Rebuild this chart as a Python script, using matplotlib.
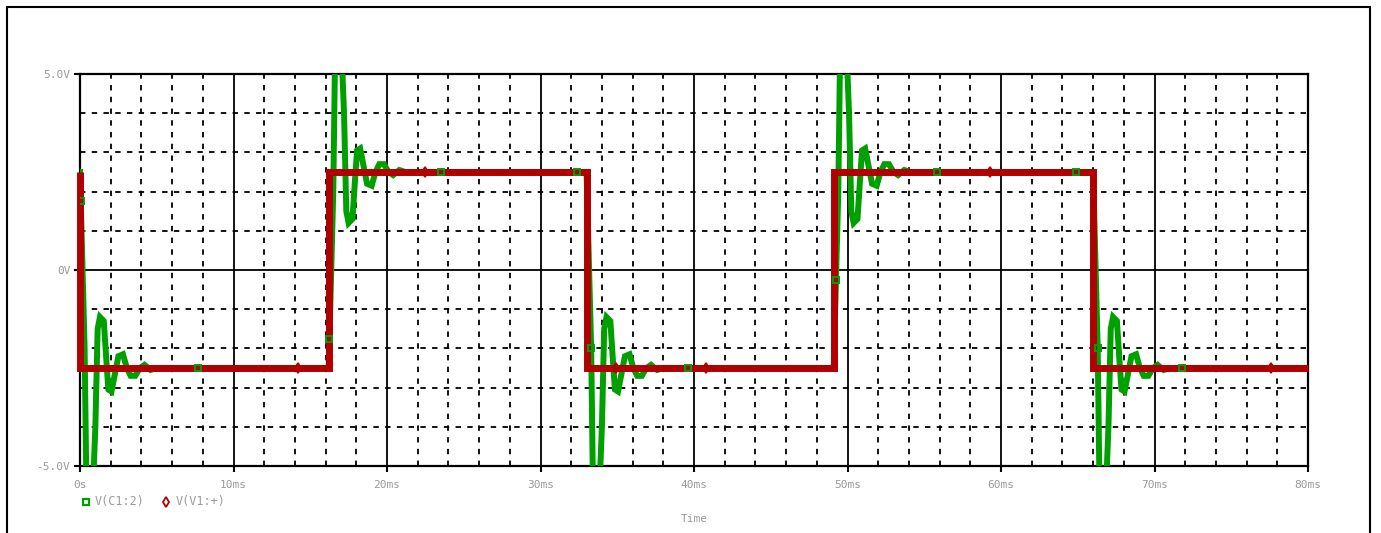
import matplotlib
matplotlib.use("Agg")
import matplotlib.pyplot as plt
import numpy as np
from matplotlib.lines import Line2D
from matplotlib.patches import Rectangle

# source square wave V(V1:+): edge times (ms) and level after each edge (V)
edge_t = [0.0, 16.2, 33.0, 49.1, 66.0]
edge_level = [-2.5, 2.5, -2.5, 2.5, -2.5]
v_start = 2.5
t_end = 80.0

# capacitor node V(C1:2): ringing after a rising edge, offset from the settled level
ring_dt = [0.0, 0.1, 0.3, 0.4, 0.55, 0.85, 1.0, 1.15, 1.3, 1.55, 1.75, 1.85,
           2.05, 2.25, 2.5, 2.8, 3.05, 3.3, 3.6, 3.9, 4.2, 4.6, 5.0]
ring_dv = [-5.0, -3.5, -0.5, 2.5, 3.0, 3.0, 1.5, -1.0, -1.3, -1.2, 0.0, 0.55,
           0.6, 0.2, -0.3, -0.35, 0.0, 0.2, 0.2, 0.0, -0.08, 0.05, 0.0]

# where the probe markers sit along each trace (ms)
green_marks = [0.05, 7.7, 16.25, 23.5, 32.4, 33.3, 39.6, 49.25, 55.8, 64.9, 66.3, 71.8]
red_marks = [14.2, 22.5, 34.9, 40.8, 59.3, 77.6]

xticks = [0, 10, 20, 30, 40, 50, 60, 70, 80]
xlabels = ["0s", "10ms", "20ms", "30ms", "40ms", "50ms", "60ms", "70ms", "80ms"]
yticks = [-5, 0, 5]
ylabels = ["-5.0V", "0V", "5.0V"]

W, H = 1381, 533
fig = plt.figure(figsize=(W / 100, H / 100), dpi=100)
ax = fig.add_axes([80 / W, 67 / H, 1228 / W, 392 / H])

# square wave polyline
rt, rv = [0.0], [v_start]
for t, lv in zip(edge_t, edge_level):
    rt += [t, t]
    rv += [rv[-1], lv]
rt.append(t_end)
rv.append(rv[-1])

# ringing trace built edge by edge
gt, gv = [0.0], [v_start]
for i, (t, lv) in enumerate(zip(edge_t, edge_level)):
    s = 1 if lv > 0 else -1
    for dt, dv in zip(ring_dt, ring_dv):
        gt.append(t + dt)
        gv.append(lv + s * dv)
    nxt = edge_t[i + 1] if i + 1 < len(edge_t) else t_end
    gt.append(nxt)
    gv.append(lv)
gt = np.array(gt)
gv = np.array(gv)

green = "#00a000"
red = "#b00000"
ax.plot(gt, gv, color=green, lw=4.3, solid_joinstyle="miter", zorder=3)
ax.plot(rt, rv, color=red, lw=5, solid_joinstyle="miter",
        solid_capstyle="butt", clip_on=False, zorder=5)
ax.plot(red_marks, np.interp(red_marks, rt, rv), ls="none", marker="d",
        ms=5.5, mfc="none", mec=red, mew=1.3, zorder=6)
ax.plot(green_marks, np.interp(green_marks, gt, gv), ls="none", marker="s",
        ms=5, mfc="none", mec=green, mew=1.4, zorder=7)

ax.set_xlim(0, 80)
ax.set_ylim(-5, 5)
ax.set_xticks(xticks)
ax.set_xticklabels(xlabels)
ax.set_yticks(yticks)
ax.set_yticklabels(ylabels)
ax.set_xticks([x for x in np.arange(0, 81, 2) if x % 10], minor=True)
ax.set_yticks([-4, -3, -2, -1, 1, 2, 3, 4], minor=True)

ax.grid(which="major", color="black", lw=1.3, ls="-", zorder=1)
ax.grid(which="minor", color="black", lw=1.3, ls=(0, (3, 3.5)), zorder=1)
ax.set_axisbelow(True)

for sp in ax.spines.values():
    sp.set_linewidth(1.6)
ax.tick_params(which="major", direction="out", length=4, width=1.5,
               color="black", labelcolor="#9a9a9a", labelsize=8)
ax.tick_params(axis="x", pad=6)
ax.tick_params(axis="y", pad=3)
ax.tick_params(which="minor", length=0)
for lab in ax.get_xticklabels() + ax.get_yticklabels():
    lab.set_family("DejaVu Sans Mono")

# legend row under the axis
fig.add_artist(Line2D([86 / W], [1 - 502 / H], marker="s", ms=5, mfc="none",
                      mec=green, mew=1.6, ls="none"))
fig.text(95 / W, 1 - 502 / H, "V(C1:2)", color="#9a9a9a", fontsize=8.5,
         family="DejaVu Sans Mono", va="center")
fig.add_artist(Line2D([166 / W], [1 - 502 / H], marker="d", ms=5, mfc="none",
                      mec=red, mew=1.3, ls="none"))
fig.text(176 / W, 1 - 502 / H, "V(V1:+)", color="#9a9a9a", fontsize=8.5,
         family="DejaVu Sans Mono", va="center")
fig.text(694 / W, 1 - 519 / H, "Time", color="#9a9a9a", fontsize=8,
         family="DejaVu Sans Mono", ha="center", va="center")

# window frame
fig.add_artist(Rectangle((7 / W, -0.05), (1370 - 7) / W, 1.05 - 7 / H,
                         transform=fig.transFigure, fill=False,
                         lw=1.5, ec="black"))

fig.savefig("out.png", dpi=100)
